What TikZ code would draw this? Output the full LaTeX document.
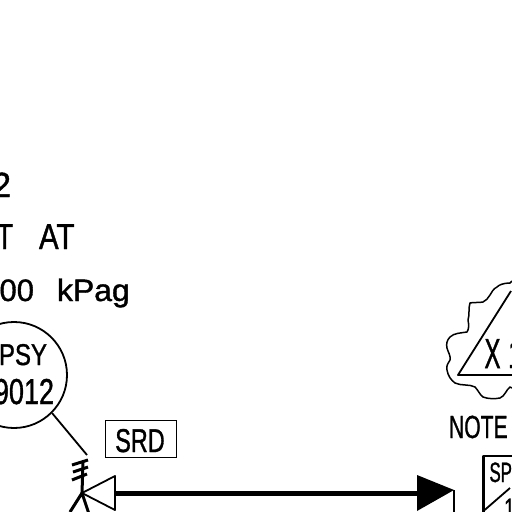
\documentclass[tikz,border=0pt]{standalone}
\usepackage{fontspec}
\setmainfont{Liberation Sans}
\newfontfamily\heavy[FakeBold=1.2]{Liberation Sans}
\newcommand{\fs}[1]{\heavy\fontsize{#1}{#1}\selectfont}
\tikzset{
  line/.style={draw=black,line width=1.8pt,line join=round},
  thin line/.style={draw=black,line width=1.5pt,line join=round},
  pipe/.style={draw=black,line width=5pt},
  label/.style={inner sep=0pt,outer sep=0pt,text=black},
}
\begin{document}
\begin{tikzpicture}[x=1pt,y=-1pt]
\useasboundingbox (0,0) rectangle (512,512);
\fill[white] (0,0) rectangle (512,512);
\clip (0,0) rectangle (512,512);
% header text, cut by the left edge
\node[label,font=\fs{35},xscale=.95,anchor=base east] (t1) at (11,197) {2};
\node[label,font=\fs{36},xscale=.78,anchor=base west] (t2a) at (-4,249) {T};
\node[label,font=\fs{36},xscale=.82,anchor=base west] (t2b) at (39,249) {AT};
\node[label,font=\fs{31},xscale=1,anchor=base east] (t3a) at (34,301) {00};
\node[label,font=\fs{31},xscale=1.03,anchor=base west] (t3b) at (57,301) {kPag};
% instrument bubble
\node[line,circle,minimum size=106pt,inner sep=0pt] (psy) at (14,375) {};
\node[label,font=\fs{30},xscale=.8,anchor=base east] (psytag) at (47,365) {PSY};
\node[label,font=\fs{36},xscale=.75,anchor=base east] (psynum) at (54,404) {9012};
% SRD box
\node[draw=black,line width=1.9pt,minimum width=71pt,minimum height=37pt,inner sep=0pt] (srd) at (141,439) {};
\node[label,font=\fs{33},xscale=.71,anchor=base] (srdt) at (140,452) {SRD};
% valve and actuator
\coordinate (lead) at (87,455);
\coordinate (stemtop) at (83,462);
\coordinate (hub) at (82,493);
\coordinate (legl) at (70,512);
\coordinate (legr) at (89,514);
\coordinate (vt) at (115,476);
\coordinate (vb) at (115,510);
\coordinate (vm) at (115,493);
\draw[line] (psy.-45) -- (lead);
\draw[line width=3pt] (stemtop) -- (hub);
\draw[line width=3pt] (72,465) -- (88,460) (73,472) -- (88,467) (72,480) -- (87,474);
\draw[line width=3pt] (hub) -- (legl) (hub) -- (legr);
\draw[line] (hub) -- (vt) -- (vb) -- cycle;
% main line
\coordinate (ah) at (417,493);
\draw[pipe] (vm) -- (ah);
\fill[black] (417,475) -- (454,490) -- (417,511) -- cycle;
\coordinate (vr1) at (454,490);
\coordinate (vr2) at (454,512);
\draw[line,line width=2pt] (vr1) -- (vr2);
% revision cloud
\draw[thin line] (512,281) -- (510,283) .. controls (503,283) and (499,285) .. (497,287)
  .. controls (493,289) and (492,292) .. (490,295)
  .. controls (488,298) and (486,301) .. (483,302)
  .. controls (478,303) and (474,302) .. (470,303)
  .. controls (468,309) and (470,314) .. (468,320)
  .. controls (469,325) and (469,329) .. (467,332)
  .. controls (461,333) and (454,333) .. (450,337)
  .. controls (447,340) and (446,344) .. (447,348)
  .. controls (448,352) and (451,356) .. (450,360)
  .. controls (448,363) and (446,366) .. (447,370)
  .. controls (448,376) and (451,380) .. (455,383)
  .. controls (461,386) and (470,384) .. (475,387)
  .. controls (478,390) and (480,395) .. (483,397)
  .. controls (488,399) and (495,399) .. (500,398)
  .. controls (505,396) and (506,390) .. (510,387) -- (512,388);
% revision triangle
\coordinate (tl) at (458,375);
\coordinate (tt) at (511,291);
\coordinate (tr) at (512,375);
\draw[line] (tt) -- (tl) -- (tr);
\node[label,font=\fs{42},xscale=.57,anchor=base] (xmark) at (492.5,368) {X};
\node[label,font=\fs{40},xscale=.7,anchor=base west] (onemark) at (508,368) {1};
\node[label,font=\fs{32},xscale=.66,anchor=base west] (note) at (449,438) {NOTE};
% SP block
\coordinate (sptl) at (483.5,456);
\coordinate (spbl) at (483.5,512);
\coordinate (sptr) at (512,456);
\coordinate (diagb) at (483.5,511);
\coordinate (diagt) at (510,488);
\draw[line,line width=2.2pt] (spbl) -- (sptl) -- (sptr);
\draw[line] (diagb) -- (diagt);
\node[label,font=\fs{28},xscale=.6,anchor=base west] (sptext) at (489.5,482) {SP};
\node[label,font=\fs{28},xscale=.7,anchor=base west] (spnum) at (504,518) {1};
\end{tikzpicture}
\end{document}
